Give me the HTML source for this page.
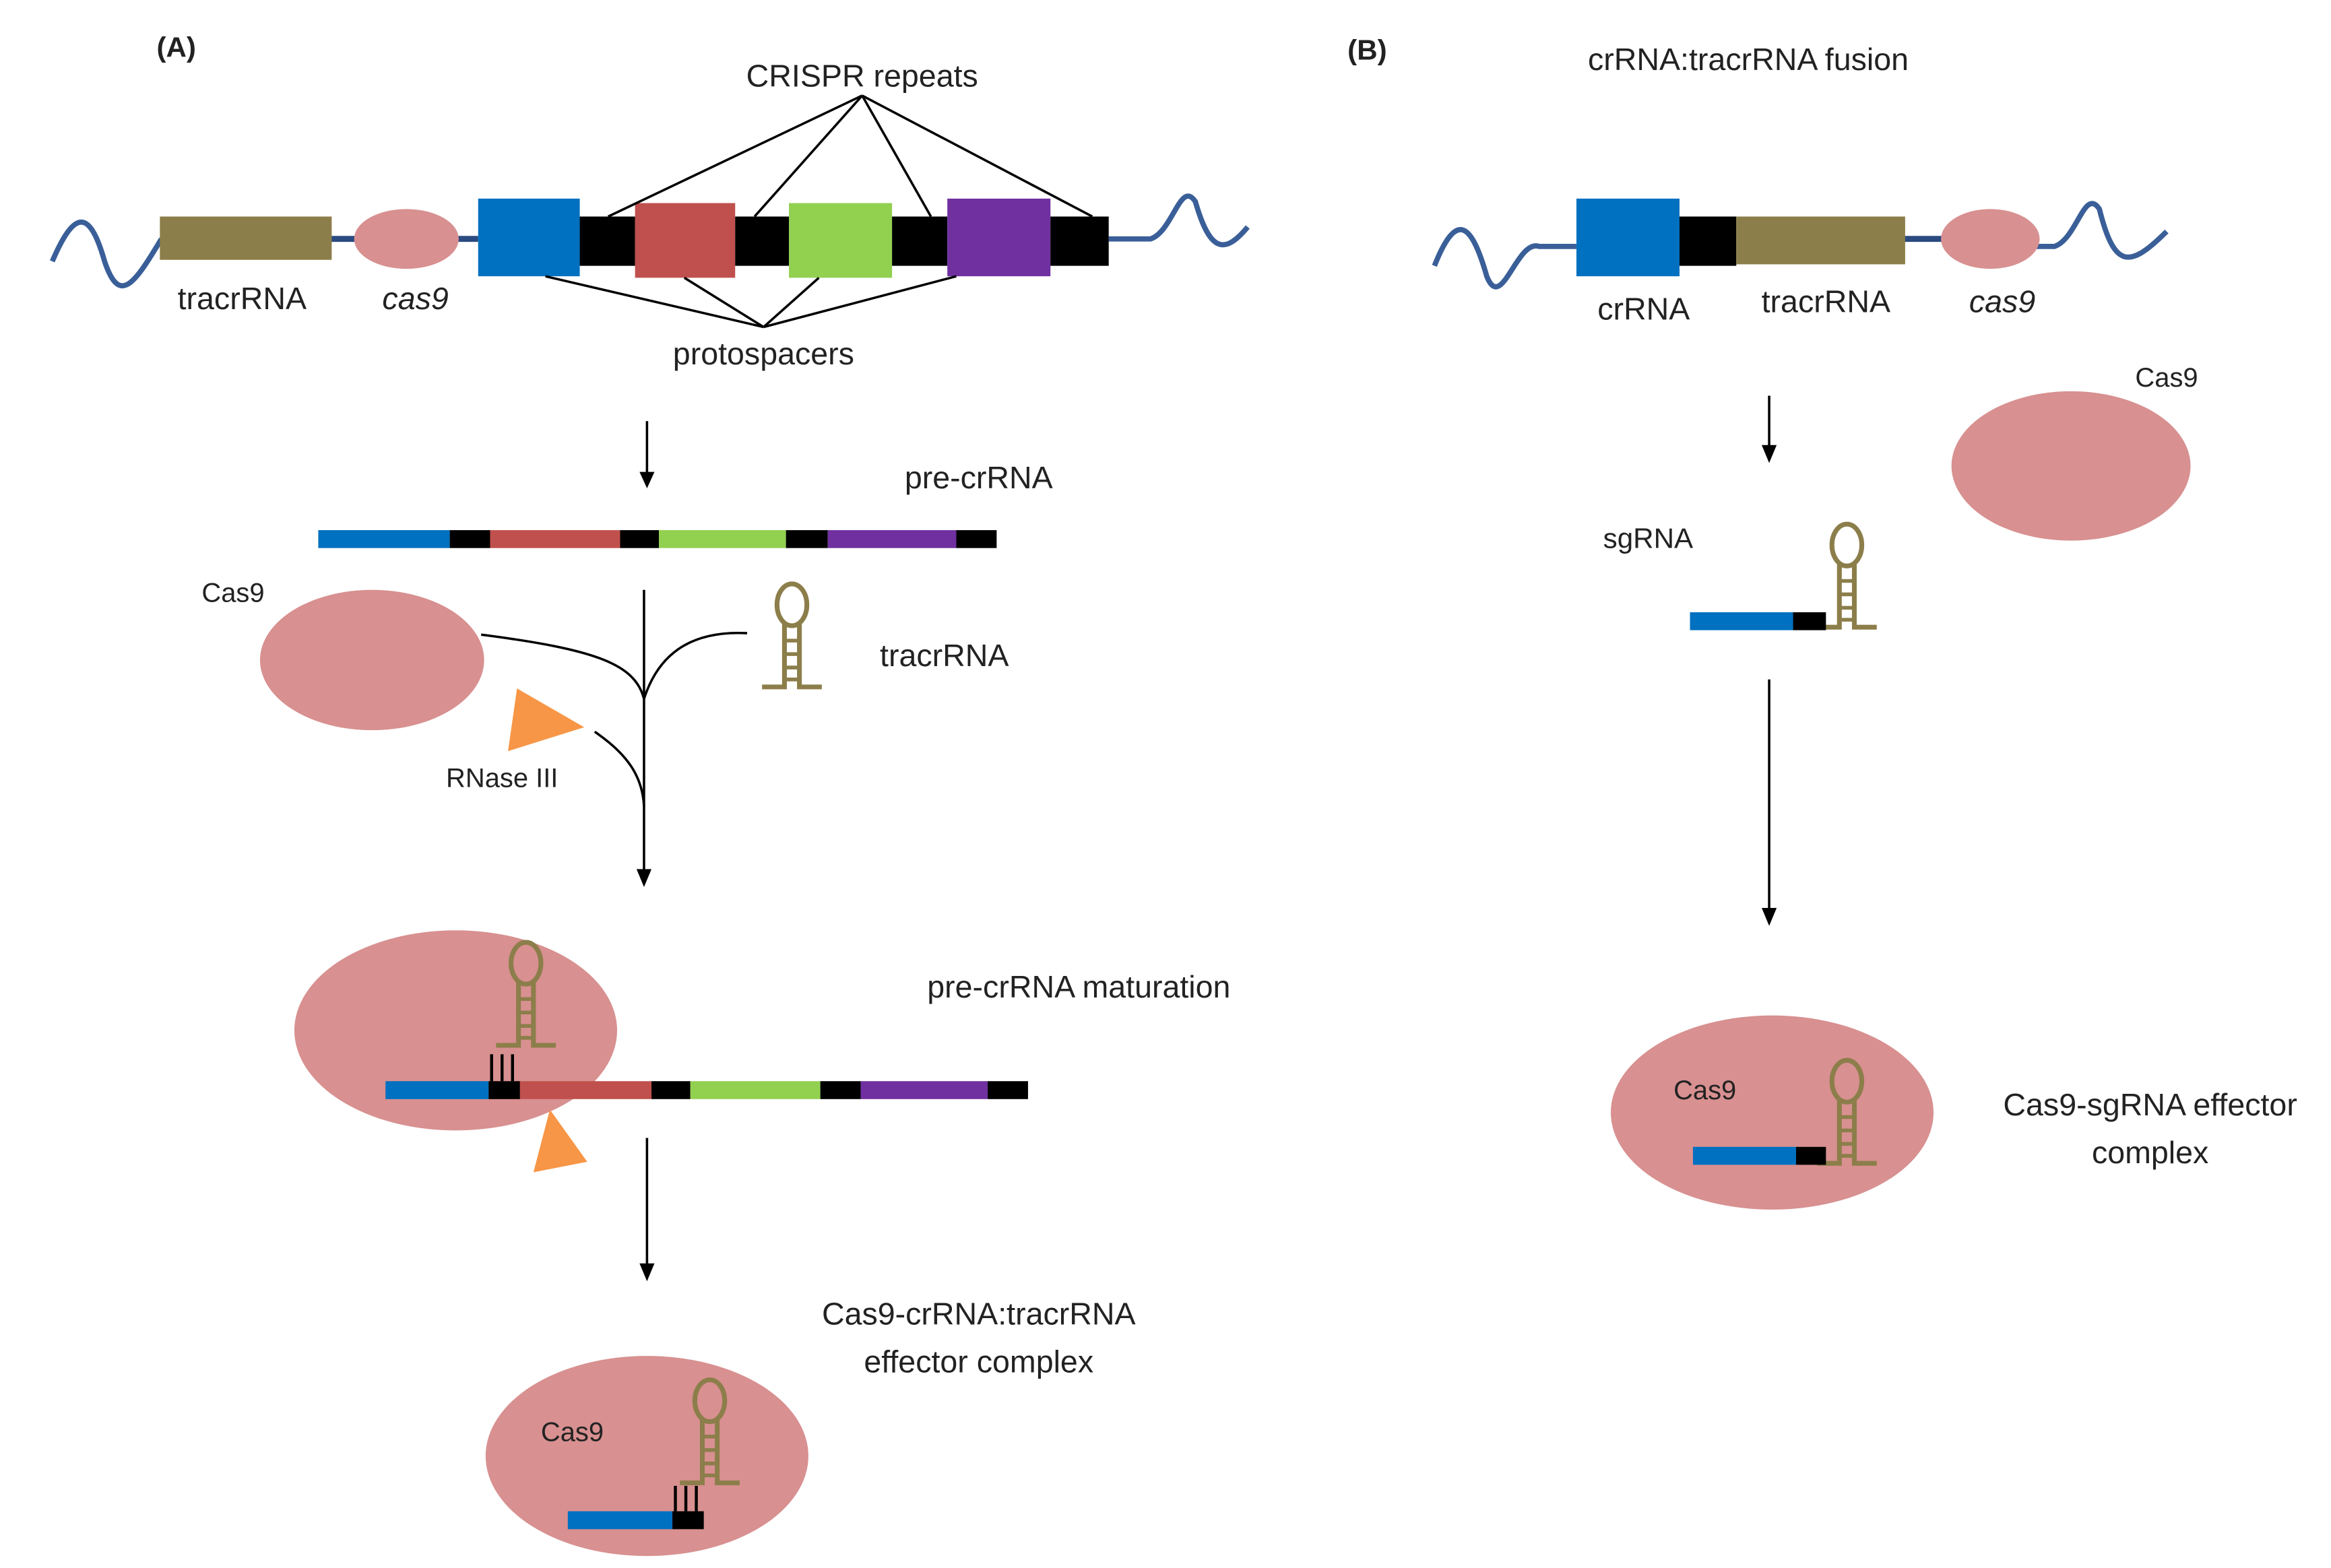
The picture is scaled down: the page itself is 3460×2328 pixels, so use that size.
<!DOCTYPE html>
<html><head><style>html,body{margin:0;padding:0;background:#fff}svg{display:block}</style></head>
<body>
<svg width="3460" height="2328" viewBox="0 0 1560 1050" preserveAspectRatio="none" xmlns="http://www.w3.org/2000/svg" font-family="Liberation Sans, sans-serif" fill="#222">
<defs>
<g id="hp" fill="none" stroke="#8c7e4a" stroke-width="3.2">
<ellipse cx="0" cy="0" rx="10" ry="14"/>
<path d="M-5 13 V55 H-20 M5 13 V55 H20"/>
<path d="M-5 24 H5 M-5 33 H5 M-5 42 H5 M-5 50 H5" stroke-width="2.5"/>
</g>
</defs>
<!-- A -->
<text x="118" y="38" font-size="19" font-weight="bold" text-anchor="middle">(A)</text>
<path d="M35 175 C50 140 60 140 70 175 C80 205 90 190 108 160" stroke="#3a5f98" stroke-width="3.5" fill="none"/>
<path d="M742 160 H770 C785 155 790 120 800 135 C810 170 820 170 835 152" stroke="#3a5f98" stroke-width="3.5" fill="none"/>
<line x1="220" y1="160" x2="320" y2="160" stroke="#2a4a80" stroke-width="4"/>
<rect x="107" y="145" width="115" height="29" fill="#8c7e4a"/>
<ellipse cx="272" cy="160" rx="35" ry="20" fill="#d89090"/>
<rect x="320" y="133" width="68" height="52" fill="#0070c0"/>
<rect x="388" y="145" width="37" height="33" fill="#000"/>
<rect x="425" y="136" width="67" height="50" fill="#c0504d"/>
<rect x="492" y="145" width="36" height="33" fill="#000"/>
<rect x="528" y="136" width="69" height="50" fill="#92d050"/>
<rect x="597" y="145" width="37" height="33" fill="#000"/>
<rect x="634" y="133" width="69" height="52" fill="#7030a0"/>
<rect x="703" y="145" width="39" height="33" fill="#000"/>
<text x="577" y="58" font-size="21" text-anchor="middle">CRISPR repeats</text>
<path d="M577 64 L407 145 M577 64 L505 145 M577 64 L623 145 M577 64 L731 145" stroke="#000" stroke-width="1.6"/>
<path d="M511 219 L365 185 M511 219 L458 186 M511 219 L548 186 M511 219 L640 185" stroke="#000" stroke-width="1.6"/>
<text x="511" y="244" font-size="21" text-anchor="middle">protospacers</text>
<text x="162" y="207" font-size="21" text-anchor="middle">tracrRNA</text>
<text x="278" y="207" font-size="21" text-anchor="middle" font-style="italic">cas9</text>
<line x1="433" y1="282" x2="433" y2="318" stroke="#000" stroke-width="1.6"/>
<polygon points="428,316 438,316 433,327" fill="#000"/>
<text x="655" y="327" font-size="21" text-anchor="middle">pre-crRNA</text>
<rect x="213" y="355" width="88" height="12" fill="#0070c0"/><rect x="301" y="355" width="27" height="12" fill="#000"/>
<rect x="328" y="355" width="87" height="12" fill="#c0504d"/><rect x="415" y="355" width="26" height="12" fill="#000"/>
<rect x="441" y="355" width="85" height="12" fill="#92d050"/><rect x="526" y="355" width="28" height="12" fill="#000"/>
<rect x="554" y="355" width="86" height="12" fill="#7030a0"/><rect x="640" y="355" width="27" height="12" fill="#000"/>
<text x="156" y="403" font-size="18" text-anchor="middle">Cas9</text>
<ellipse cx="249" cy="442" rx="75" ry="47" fill="#d89090"/>
<line x1="431" y1="395" x2="431" y2="584" stroke="#000" stroke-width="1.6"/>
<polygon points="426,582 436,582 431,594" fill="#000"/>
<path d="M322 425 C400 435 425 445 431 468" stroke="#000" stroke-width="1.6" fill="none"/>
<path d="M500 424 C460 422 440 440 431 468" stroke="#000" stroke-width="1.6" fill="none"/>
<path d="M398 490 C420 505 430 520 431 540" stroke="#000" stroke-width="1.6" fill="none"/>
<polygon points="340,503 346,461 391,487" fill="#f79646"/>
<text x="336" y="527" font-size="18" text-anchor="middle">RNase III</text>
<use href="#hp" x="530" y="405"/>
<text x="632" y="446" font-size="21" text-anchor="middle">tracrRNA</text>
<ellipse cx="305" cy="690" rx="108" ry="67" fill="#d89090"/>
<text x="722" y="668" font-size="21" text-anchor="middle">pre-crRNA maturation</text>
<use href="#hp" x="352" y="645"/>
<path d="M329 724 V706 M336 724 V706 M343 724 V706" stroke="#000" stroke-width="2"/>
<rect x="258" y="724" width="69" height="12" fill="#0070c0"/><rect x="327" y="724" width="21" height="12" fill="#000"/>
<rect x="348" y="724" width="88" height="12" fill="#c0504d"/><rect x="436" y="724" width="26" height="12" fill="#000"/>
<rect x="462" y="724" width="87" height="12" fill="#92d050"/><rect x="549" y="724" width="27" height="12" fill="#000"/>
<rect x="576" y="724" width="85" height="12" fill="#7030a0"/><rect x="661" y="724" width="27" height="12" fill="#000"/>
<polygon points="357,785 368,743 393,778" fill="#f79646"/>
<line x1="433" y1="762" x2="433" y2="848" stroke="#000" stroke-width="1.6"/>
<polygon points="428,846 438,846 433,858" fill="#000"/>
<text x="655" y="887" font-size="21" text-anchor="middle">Cas9-crRNA:tracrRNA</text>
<text x="655" y="919" font-size="21" text-anchor="middle">effector complex</text>
<ellipse cx="433" cy="975" rx="108" ry="67" fill="#d89090"/>
<text x="383" y="965" font-size="18" text-anchor="middle">Cas9</text>
<use href="#hp" x="475" y="938"/>
<path d="M452 1012 V995 M459 1012 V995 M466 1012 V995" stroke="#000" stroke-width="2"/>
<rect x="380" y="1012" width="70" height="12" fill="#0070c0"/><rect x="450" y="1012" width="21" height="12" fill="#000"/>
<!-- B -->
<text x="915" y="40" font-size="19" font-weight="bold" text-anchor="middle">(B)</text>
<text x="1170" y="47" font-size="21" text-anchor="middle">crRNA:tracrRNA fusion</text>
<path d="M960 178 C975 140 985 150 995 185 C1005 210 1015 160 1030 165 H1055" stroke="#3a5f98" stroke-width="3.5" fill="none"/>
<path d="M1360 165 H1375 C1390 160 1395 125 1405 140 C1415 180 1425 180 1450 155" stroke="#3a5f98" stroke-width="3.5" fill="none"/>
<line x1="1270" y1="160" x2="1300" y2="160" stroke="#2a4a80" stroke-width="4"/>
<rect x="1055" y="133" width="69" height="52" fill="#0070c0"/>
<rect x="1124" y="145" width="38" height="33" fill="#000"/>
<rect x="1162" y="145" width="113" height="32" fill="#8c7e4a"/>
<ellipse cx="1332" cy="160" rx="33" ry="20" fill="#d89090"/>
<text x="1100" y="214" font-size="21" text-anchor="middle">crRNA</text>
<text x="1222" y="209" font-size="21" text-anchor="middle">tracrRNA</text>
<text x="1340" y="209" font-size="21" text-anchor="middle" font-style="italic">cas9</text>
<line x1="1184" y1="265" x2="1184" y2="300" stroke="#000" stroke-width="1.6"/>
<polygon points="1179,298 1189,298 1184,310" fill="#000"/>
<text x="1450" y="259" font-size="18" text-anchor="middle">Cas9</text>
<ellipse cx="1386" cy="312" rx="80" ry="50" fill="#d89090"/>
<text x="1103" y="367" font-size="19" text-anchor="middle">sgRNA</text>
<use href="#hp" x="1236" y="365"/>
<rect x="1131" y="410" width="69" height="12" fill="#0070c0"/><rect x="1200" y="410" width="22" height="12" fill="#000"/>
<line x1="1184" y1="455" x2="1184" y2="610" stroke="#000" stroke-width="1.6"/>
<polygon points="1179,608 1189,608 1184,620" fill="#000"/>
<ellipse cx="1186" cy="745" rx="108" ry="65" fill="#d89090"/>
<text x="1141" y="736" font-size="18" text-anchor="middle">Cas9</text>
<use href="#hp" x="1236" y="724"/>
<rect x="1133" y="768" width="69" height="12" fill="#0070c0"/><rect x="1202" y="768" width="20" height="12" fill="#000"/>
<text x="1439" y="747" font-size="21" text-anchor="middle">Cas9-sgRNA effector</text>
<text x="1439" y="779" font-size="21" text-anchor="middle">complex</text>
</svg>
</body></html>
